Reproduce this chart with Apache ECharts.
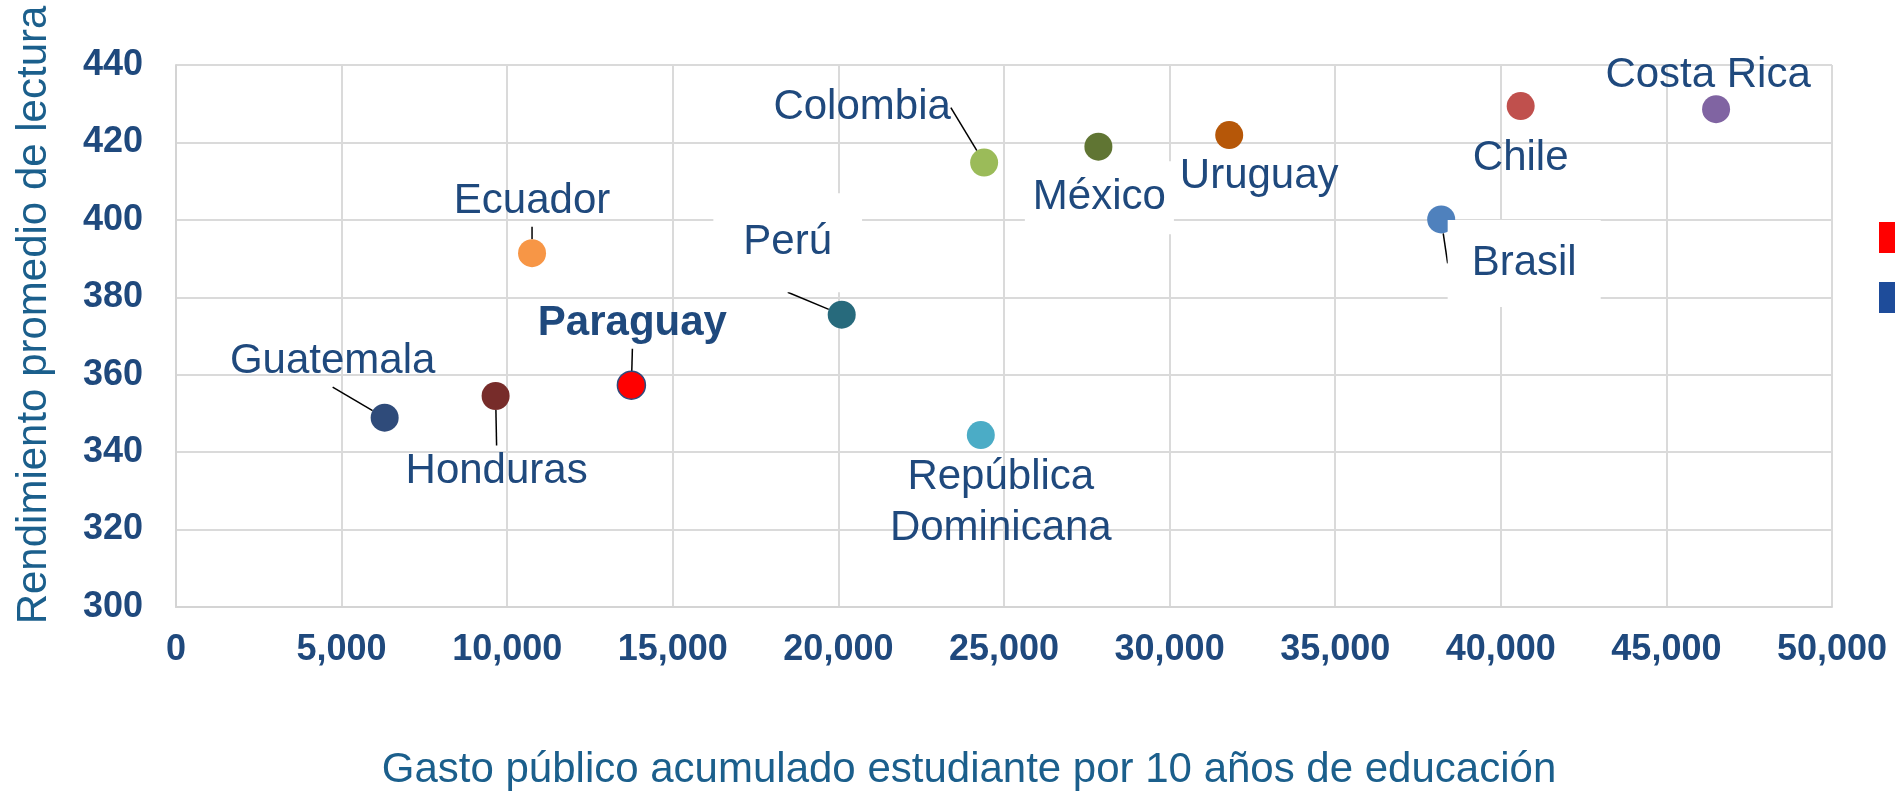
<!DOCTYPE html>
<html>
<head>
<meta charset="utf-8">
<script src="https://cdn.jsdelivr.net/npm/echarts@6/dist/echarts.min.js"></script>
<style>
  html, body { margin: 0; padding: 0; background: #fff; }
  #chart { width: 1895px; height: 794px; }
</style>
</head>
<body>
<div id="chart"></div>
<script>
// datos
const paises = ["Guatemala", "Honduras", "Paraguay", "Ecuador", "Perú", "República\nDominicana",
  "Colombia", "México", "Uruguay", "Chile", "Costa Rica", "Brasil"];
const gasto = [6300, 9650, 13750, 10750, 20100, 24300, 24400, 27850, 31800, 40600, 46500, 38200];
const lectura = [348.9, 354.5, 357.3, 391.4, 375.5, 344.4, 414.8, 418.9, 421.9, 429.4, 428.6, 400.1];
const colores = ["#2F4B7A", "#772C2A", "#FF0000", "#F79646", "#276A7C", "#4BACC6",
  "#9BBB59", "#607533", "#B65708", "#C0504D", "#8064A2", "#4F81BD"];

const yTitulo = "Rendimiento promedio de lectura";
const xTitulo = "Gasto público acumulado estudiante por 10 años de educación";

// desplazamiento de cada etiqueta respecto al punto
const offsets = {
  "Guatemala": [-52, -56],
  "Honduras": [1, 75],
  "Paraguay": [1, -62],
  "Ecuador": [0, -52],
  "Perú": [-54, -72],
  "República\nDominicana": [20, 68],
  "Colombia": [-122, -55],
  "México": [1, 51],
  "Uruguay": [30, 41],
  "Chile": [0, 52],
  "Costa Rica": [-8, -34],
  "Brasil": [83, 44]
};
const conLinea = ["Guatemala", "Honduras", "Paraguay", "Ecuador", "Perú", "Colombia", "Brasil"];
// cajas blancas detras de algunas etiquetas
const fondos = {
  "Perú": [18, 30, 30, 30],
  "México": [10, 8, 12, 8],
  "Brasil": [14, 24, 22, 24]
};

const navy = "#1F497D";
const font = "Liberation Sans";

function punto(i) {
  const name = paises[i];
  const item = {
    name: name,
    value: [gasto[i], lectura[i]],
    itemStyle: { color: colores[i] },
    labelLine: { show: conLinea.includes(name) }
  };
  if (name === "Paraguay") {
    item.itemStyle.borderColor = "#2E4A7D";
    item.itemStyle.borderWidth = 1.5;
    item.label = { fontWeight: "bold" };
  }
  if (fondos[name]) {
    item.label = { backgroundColor: "#fff", padding: fondos[name] };
  }
  return item;
}

const datosPy = [];
const datosOtros = [];
paises.forEach((p, i) => {
  if (p === "Paraguay") datosPy.push(punto(i));
  else datosOtros.push(punto(i));
});

function serie(nombre, color, datos) {
  return {
    name: nombre,
    type: "scatter",
    symbolSize: 28,
    itemStyle: { color: color, opacity: 1 },
    data: datos,
    label: {
      show: true,
      position: "inside",
      formatter: "{b}",
      color: navy,
      fontFamily: font,
      fontSize: 42,
      lineHeight: 51
    },
    labelLine: {
      show: false,
      lineStyle: { color: "#000", width: 1.5 }
    },
    labelLayout: function (params) {
      const o = offsets[datos[params.dataIndex].name];
      return { dx: o[0], dy: o[1] };
    }
  };
}

var myChart = echarts.init(document.getElementById("chart"));

var option = {
  backgroundColor: "#fff",
  animation: false,
  grid: { left: 176, right: 63, top: 65, bottom: 187 },
  legend: {
    orient: "vertical",
    left: 1879,
    top: 222,
    padding: 0,
    icon: "rect",
    itemWidth: 30,
    itemHeight: 31,
    itemGap: 29,
    formatter: function () { return ""; },
    data: ["Paraguay", "Otros países"]
  },
  xAxis: {
    type: "value",
    min: 0,
    max: 50000,
    interval: 5000,
    axisLine: { show: true, lineStyle: { color: "#D4D4D4", width: 2 } },
    axisTick: { show: false },
    splitLine: { lineStyle: { color: "#DADADA", width: 2 } },
    axisLabel: {
      margin: 25,
      color: navy,
      fontFamily: font,
      fontWeight: "bold",
      fontSize: 36,
      formatter: function (v) { return v.toLocaleString("en-US"); }
    }
  },
  yAxis: {
    type: "value",
    min: 300,
    max: 440,
    interval: 20,
    axisLine: { show: true, lineStyle: { color: "#D4D4D4", width: 2 } },
    axisTick: { show: false },
    splitLine: { lineStyle: { color: "#DADADA", width: 2 } },
    axisLabel: {
      margin: 33,
      color: navy,
      fontFamily: font,
      fontWeight: "bold",
      fontSize: 36
    }
  },
  graphic: [
    {
      type: "text",
      x: 34,
      y: 315,
      rotation: Math.PI / 2,
      style: {
        text: yTitulo,
        fill: "#1B5F8C",
        font: "42px " + font,
        align: "center",
        verticalAlign: "middle"
      }
    },
    {
      type: "text",
      x: 969,
      y: 770,
      style: {
        text: xTitulo,
        fill: "#1B5F8C",
        font: "42px " + font,
        align: "center",
        verticalAlign: "middle"
      }
    }
  ],
  series: [
    serie("Paraguay", "#FF0000", datosPy),
    serie("Otros países", "#1E4C9A", datosOtros)
  ]
};

myChart.setOption(option);
</script>
</body>
</html>
